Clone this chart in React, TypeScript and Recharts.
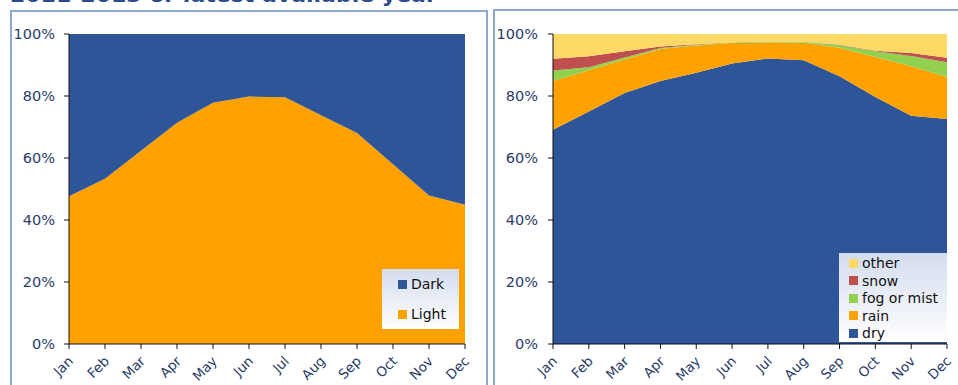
import React from 'react';
import { AreaChart, Area, XAxis, YAxis, Legend } from 'recharts';

// Month categories shared by both panels
const months = ['Jan', 'Feb', 'Mar', 'Apr', 'May', 'Jun', 'Jul', 'Aug', 'Sep', 'Oct', 'Nov', 'Dec'];

// Left panel: share of accidents in daylight vs darkness (%)
const lightShare = [47.7, 53.3, 62.3, 71.4, 77.8, 79.8, 79.6, 73.8, 68.1, 58.0, 47.9, 44.9];
const darkShare = [52.3, 46.7, 37.7, 28.6, 22.2, 20.2, 20.4, 26.2, 31.9, 42.0, 52.1, 55.1];

// Right panel: share by weather condition (%)
const dryShare = [69.1, 75.0, 81.0, 84.8, 87.5, 90.5, 92.1, 91.5, 86.4, 79.7, 73.6, 72.6];
const rainShare = [15.7, 13.3, 10.8, 10.4, 8.8, 6.7, 5.2, 5.7, 9.2, 12.9, 16.0, 13.5];
const fogShare = [3.4, 1.0, 0.6, 0.3, 0.2, 0.1, 0.3, 0.3, 0.8, 1.8, 3.3, 4.8];
const snowShare = [3.8, 3.5, 2.0, 0.5, 0.2, 0.0, 0.0, 0.0, 0.1, 0.2, 1.0, 1.4];
const otherShare = [8.0, 7.2, 5.6, 4.0, 3.3, 2.7, 2.4, 2.5, 3.5, 5.4, 6.1, 7.7];

const percentTicks = [0, 20, 40, 60, 80, 100];

// Legend entries, top to bottom
const lightLegendOrder = ['Dark', 'Light'];
const weatherLegendOrder = ['other', 'snow', 'fog or mist', 'rain', 'dry'];

const BLUE = '#2E5597';
const ORANGE = '#FFA200';
const GREEN = '#92D050';
const RED = '#C0504D';
const YELLOW = '#FFD966';
const TICK_COLOR = '#2C3C68';
const AXIS_COLOR = '#111';
const FONT = '"DejaVu Sans", Verdana, sans-serif';

const lightData = months.map((month, i) => ({
  month,
  Light: lightShare[i],
  Dark: darkShare[i],
}));

const weatherData = months.map((month, i) => ({
  month,
  dry: dryShare[i],
  rain: rainShare[i],
  fog: fogShare[i],
  snow: snowShare[i],
  other: otherShare[i],
}));

const seriesColor: Record<string, string> = {
  Light: ORANGE,
  Dark: BLUE,
  dry: BLUE,
  rain: ORANGE,
  'fog or mist': GREEN,
  snow: RED,
  other: YELLOW,
};

const MonthTick = (props: any) => {
  const { x, y, payload } = props;
  return (
    <text
      transform={`translate(${x + 5},${y + 11}) rotate(-45)`}
      textAnchor="end"
      fontSize={13.5}
      fontFamily={FONT}
      fill={TICK_COLOR}
    >
      {payload.value}
    </text>
  );
};

const makeLegend = (
  order: string[],
  width: number,
  height: number,
  rowTop: number,
  rowStep: number,
  swatchX: number,
  textX: number
) =>
  (props: any) => {
    const present = new Set((props.payload || []).map((p: any) => p.value));
    const items = order.filter((name) => present.has(name));
    return (
      <div
        style={{
          position: 'relative',
          width,
          height,
          background: 'linear-gradient(#D3DCEE, #FFFFFF)',
          fontFamily: FONT,
          fontSize: 14,
          color: '#111',
        }}
      >
        {items.map((name, i) => {
          const cy = rowTop + i * rowStep;
          return (
            <React.Fragment key={name}>
              <div
                style={{
                  position: 'absolute',
                  left: swatchX,
                  top: cy - 4.5,
                  width: 9,
                  height: 9,
                  background: seriesColor[name],
                }}
              />
              <div
                style={{
                  position: 'absolute',
                  left: textX,
                  top: cy - 9,
                  height: 18,
                  lineHeight: '18px',
                  whiteSpace: 'nowrap',
                }}
              >
                {name}
              </div>
            </React.Fragment>
          );
        })}
      </div>
    );
  };

const LightLegend = makeLegend(lightLegendOrder, 77, 60, 15, 30, 16, 29);
const WeatherLegend = makeLegend(weatherLegendOrder, 108, 89, 10, 17.5, 10, 23);

const yAxisProps = {
  type: 'number' as const,
  domain: [0, 100] as [number, number],
  ticks: percentTicks,
  tickFormatter: (v: number) => `${v}%`,
  tick: { fill: TICK_COLOR, fontSize: 14.5, fontFamily: FONT },
  tickSize: 5,
  axisLine: { stroke: AXIS_COLOR },
  tickLine: { stroke: AXIS_COLOR },
  interval: 0 as const,
};

const xAxisProps = {
  dataKey: 'month',
  interval: 0 as const,
  height: 41,
  tickSize: 5,
  tick: <MonthTick />,
  axisLine: { stroke: AXIS_COLOR },
  tickLine: { stroke: AXIS_COLOR },
};

const panelBorder = '2px solid #8FA6D1';

export default function App() {
  return (
    <div
      style={{
        position: 'fixed',
        left: 0,
        top: 0,
        width: 958,
        height: 385,
        overflow: 'hidden',
        background: '#fff',
      }}
    >
      <div
        style={{
          position: 'absolute',
          left: 10,
          top: -16,
          fontFamily: FONT,
          fontWeight: 'bold',
          fontSize: 22,
          lineHeight: '22px',
          color: '#2B4C8C',
          whiteSpace: 'nowrap',
        }}
      >
        2011-2013 or latest available year
      </div>

      <div
        style={{
          position: 'absolute',
          left: 10,
          top: 10,
          width: 478,
          height: 420,
          boxSizing: 'border-box',
          border: panelBorder,
        }}
      />
      <div
        style={{
          position: 'absolute',
          left: 493,
          top: 9,
          width: 500,
          height: 420,
          boxSizing: 'border-box',
          border: panelBorder,
        }}
      />

      <div style={{ position: 'absolute', left: 10, top: 10 }}>
        <AreaChart width={476} height={375} data={lightData} margin={{ top: 24, right: 21, left: 0, bottom: 0 }}>
          <XAxis {...xAxisProps} />
          <YAxis {...yAxisProps} width={59} tickMargin={9} />
          <Area type="linear" dataKey="Light" name="Light" stackId="1" fill={ORANGE} fillOpacity={1} stroke="none" isAnimationActive={false} dot={false} activeDot={false} />
          <Area type="linear" dataKey="Dark" name="Dark" stackId="1" fill={BLUE} fillOpacity={1} stroke="none" isAnimationActive={false} dot={false} activeDot={false} />
          <Legend
            layout="vertical"
            align="center"
            verticalAlign="middle"
            content={<LightLegend />}
            wrapperStyle={{ left: 372, top: 259, width: 77, height: 60 }}
          />
        </AreaChart>
      </div>

      <div style={{ position: 'absolute', left: 493, top: 10 }}>
        <AreaChart width={465} height={375} data={weatherData} margin={{ top: 24, right: 11, left: 0, bottom: 0 }}>
          <XAxis {...xAxisProps} />
          <YAxis {...yAxisProps} width={60} tickMargin={10} />
          <Area type="linear" dataKey="dry" name="dry" stackId="1" fill={BLUE} fillOpacity={1} stroke="none" isAnimationActive={false} dot={false} activeDot={false} />
          <Area type="linear" dataKey="rain" name="rain" stackId="1" fill={ORANGE} fillOpacity={1} stroke="none" isAnimationActive={false} dot={false} activeDot={false} />
          <Area type="linear" dataKey="fog" name="fog or mist" stackId="1" fill={GREEN} fillOpacity={1} stroke="none" isAnimationActive={false} dot={false} activeDot={false} />
          <Area type="linear" dataKey="snow" name="snow" stackId="1" fill={RED} fillOpacity={1} stroke="none" isAnimationActive={false} dot={false} activeDot={false} />
          <Area type="linear" dataKey="other" name="other" stackId="1" fill={YELLOW} fillOpacity={1} stroke="none" isAnimationActive={false} dot={false} activeDot={false} />
          <Legend
            layout="vertical"
            align="center"
            verticalAlign="middle"
            content={<WeatherLegend />}
            wrapperStyle={{ left: 346, top: 243, width: 108, height: 89 }}
          />
        </AreaChart>
      </div>
    </div>
  );
}
